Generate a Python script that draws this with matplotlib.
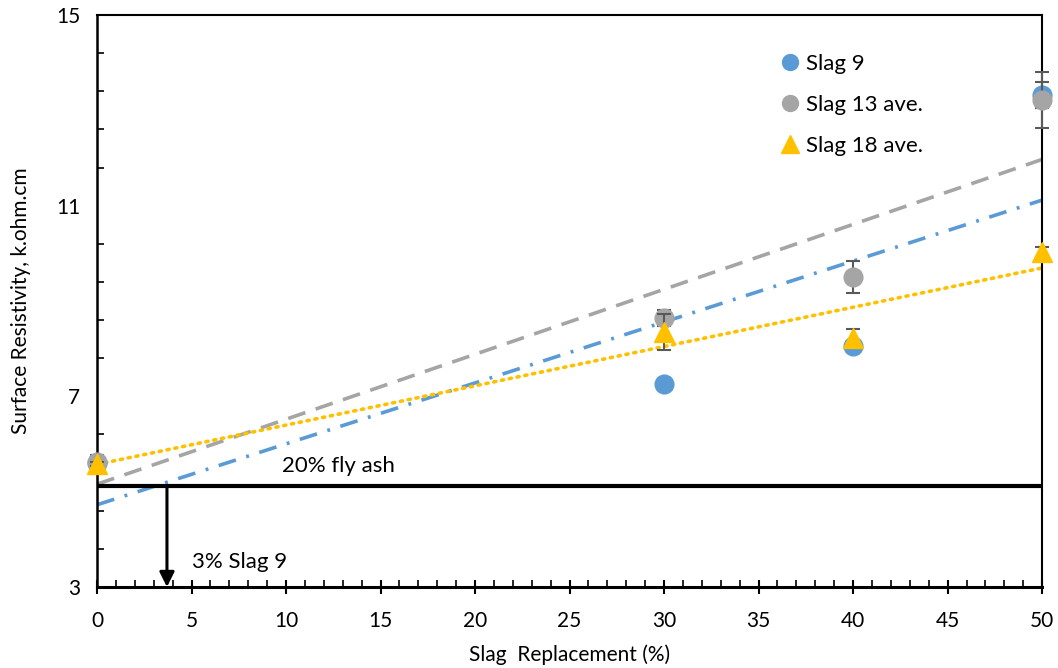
import numpy as np
import matplotlib.pyplot as plt

plt.rcParams['font.family'] = ['Lato', 'DejaVu Sans']

slag = [0, 30, 40, 50]
slag9 = [5.60, 7.26, 8.06, 13.32]
slag9_err = [0.0, 0.0, 0.0, 0.28]
slag13 = [5.62, 8.64, 9.50, 13.22]
slag13_err = [0.15, 0.17, 0.33, 0.58]
slag18 = [5.58, 8.35, 8.22, 10.03]
slag18_err = [0.05, 0.38, 0.20, 0.10]

yticks = [3, 7, 11, 15]
yminor = [3.8, 4.6, 5.4, 6.2, 7.8, 8.6, 9.4, 10.2, 11.8, 12.6, 13.4, 14.2]

fly_ash = 5.12
slag9_cross = 3.7

blue = '#5B9BD5'
grey = '#A5A5A5'
yellow = '#FFC000'

fig = plt.figure(figsize=(10.58, 6.68), dpi=100)
ax = fig.add_axes([0.0917, 0.1213, 0.8933, 0.8562])

x = np.array(slag)
xx = np.array([0, 50])

# trendlines (linear fit like excel)
p9 = np.polyfit(x, slag9, 1)
p13 = np.polyfit(x, slag13, 1)
p18 = np.polyfit(x, slag18, 1)
ax.plot(xx, np.polyval(p13, xx), color=grey, lw=2.6, dashes=(5, 3), zorder=2)
ax.plot(xx, np.polyval(p9, xx), color=blue, lw=2.6, dashes=(5, 3, 0.8, 3), zorder=2)
ax.plot(xx, np.polyval(p18, xx), color=yellow, lw=2.6, linestyle=(0, (0.6, 1.6)),
        dash_capstyle='round', zorder=2)

ax.axhline(fly_ash, color='black', lw=3, zorder=3)
ax.annotate('', xy=(slag9_cross, 3.0), xytext=(slag9_cross, fly_ash),
            arrowprops=dict(arrowstyle='-|>', color='black', lw=2.2,
                            mutation_scale=22, shrinkA=0, shrinkB=0), zorder=3)
ax.text(9.8, 5.42, '20% fly ash', fontsize=16)
ax.text(5, 3.4, '3% Slag 9', fontsize=16)

for ys, err, mk, col, ms, lab, z in [(slag9, slag9_err, 'o', blue, 13.5, 'Slag 9', 4),
                                    (slag13, slag13_err, 'o', grey, 13.5, 'Slag 13 ave.', 5),
                                    (slag18, slag18_err, '^', yellow, 15, 'Slag 18 ave.', 6)]:
    eb = ax.errorbar(slag, ys, yerr=err, fmt=mk, color=col, ms=ms,
                     ecolor='#595959', elinewidth=1.5, capsize=5, capthick=1.5,
                     label=lab, zorder=z)
    for art in [eb.lines[0]] + list(eb.lines[1]) + list(eb.lines[2]):
        art.set_clip_on(False)

ax.set_xlim(0, 50)
ax.set_ylim(3, 15)
ax.set_xticks(np.arange(0, 51, 5))
ax.set_xticks(np.arange(0, 51, 1), minor=True)
ax.set_yticks(yticks)
ax.set_yticks(yminor, minor=True)
ax.tick_params(axis='x', which='major', direction='inout', length=10, width=1.5, labelsize=15, pad=12)
ax.tick_params(axis='x', which='minor', direction='in', length=5, width=1.2)
ax.tick_params(axis='y', which='major', direction='in', length=0, labelsize=15, pad=12)
ax.tick_params(axis='y', which='minor', direction='in', length=5, width=1.2)
for s in ['top', 'right']:
    ax.spines[s].set_linewidth(1.5)
ax.spines['left'].set_linewidth(1.8)
ax.spines['bottom'].set_linewidth(2.2)

ax.set_xlabel('Slag  Replacement (%)', fontsize=15, labelpad=10)
ax.set_ylabel('Surface Resistivity, k.ohm.cm', fontsize=15, labelpad=18)

h, l = ax.get_legend_handles_labels()
h = [hh[0] for hh in h]
ax.legend(h, l, loc='upper left', bbox_to_anchor=(0.698, 0.967), frameon=False,
          fontsize=16, handletextpad=0.1, labelspacing=0.95, markerscale=0.85,
          handlelength=1.2)

fig.savefig('out.png', dpi=100)
